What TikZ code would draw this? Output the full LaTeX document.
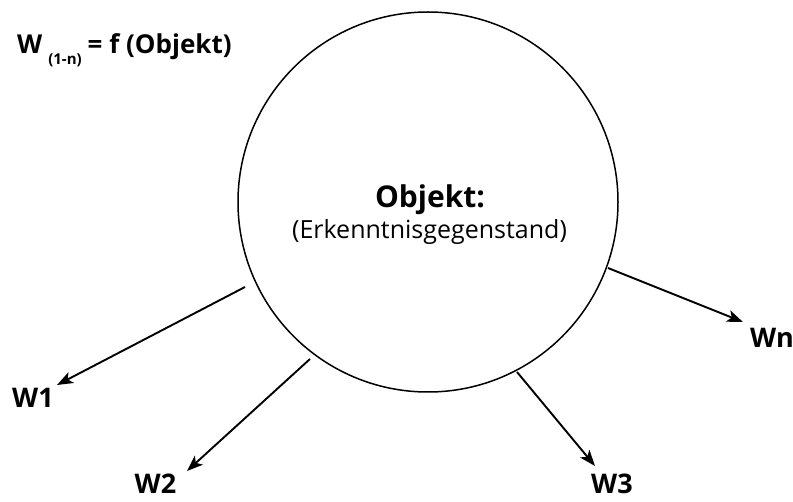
\documentclass[tikz,border=0pt]{standalone}
\usepackage{fontspec}
\setmainfont{Open Sans}
\usetikzlibrary{arrows.meta}
\begin{document}
\begin{tikzpicture}[x=1pt,y=1pt,
  wlabel/.style={font=\fontsize{27}{29}\selectfont\bfseries, inner sep=0pt},
  conn/.style={line width=1.9pt, -{Stealth[length=16pt,width=12pt,inset=4pt]}},
  objcircle/.style={circle, draw, line width=1.5pt, minimum size=380pt, inner sep=0pt}]
\useasboundingbox (0,0) rectangle (793,501);
\node[objcircle] (obj) at (428,299) {};
\node[anchor=base, font=\fontsize{30}{32}\selectfont\bfseries, inner sep=0pt] (objt) at (430,293) {Objekt:};
\node[anchor=base, font=\fontsize{25}{27}\selectfont, inner sep=0pt] (objs) at (429.5,262) {(Erkenntnisgegenstand)};
\node[anchor=base west, inner sep=0pt, font=\fontsize{26}{28}\selectfont\bfseries] (title) at (17,447)
  {W\hspace{6pt}\raisebox{-11pt}{\fontsize{15}{16}\selectfont (1-n)}\hspace{6pt}= f (Objekt)};
\node[wlabel] (w1) at (33,103) {W1};
\node[wlabel] (w2) at (155.5,17) {W2};
\node[wlabel] (w3) at (612,17) {W3};
\node[wlabel] (wn) at (772,163) {Wn};
\coordinate (s1) at (245,214);
\coordinate (t1) at (57,116);
\coordinate (s2) at (310,142);
\coordinate (t2) at (187,30);
\coordinate (s3) at (517,129);
\coordinate (t3) at (595,35);
\coordinate (s4) at (608,233);
\coordinate (t4) at (743,179);
\draw[conn] (s1) -- (t1);
\draw[conn] (s2) -- (t2);
\draw[conn] (s3) -- (t3);
\draw[conn] (s4) -- (t4);
\end{tikzpicture}
\end{document}
